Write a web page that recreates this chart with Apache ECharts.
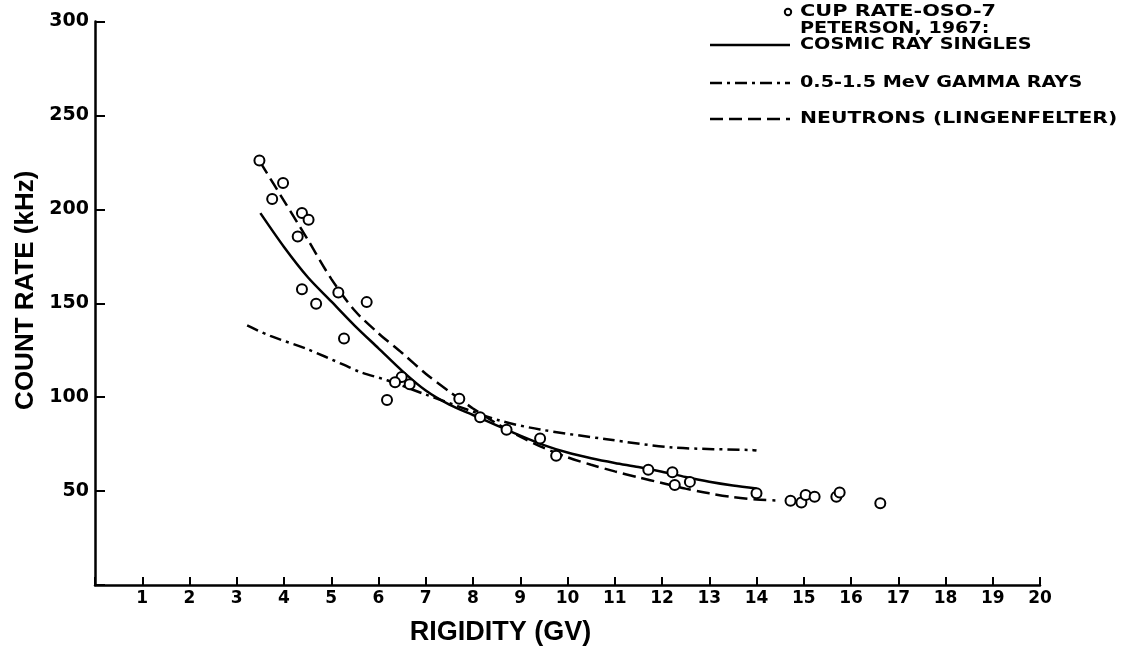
<!DOCTYPE html>
<html>
<head>
<meta charset="utf-8">
<script src="https://cdn.jsdelivr.net/npm/echarts@6/dist/echarts.min.js"></script>
<style>
html,body{margin:0;padding:0;background:#fff;}
#chart{width:1133px;height:651px;}
</style>
</head>
<body>
<div id="chart"></div>
<script>
// ---- Data ----
const xTicks = [1,2,3,4,5,6,7,8,9,10,11,12,13,14,15,16,17,18,19,20];
const yTicks = [50,100,150,200,250,300];

// Cup rate, OSO-7 (open circles): [rigidity GV, count rate kHz]
const cupRate = [
  [3.48,226],[3.98,214],[3.75,205.5],[4.38,198],[4.52,194.5],[4.29,185.5],
  [4.38,157.5],[5.15,155.7],[5.75,150.6],[4.68,149.7],[5.27,131.2],
  [6.49,110.7],[6.35,108],[6.66,106.9],[6.18,98.5],[7.71,99.1],[8.15,89.3],
  [8.71,82.6],[9.42,78],[9.76,68.8],[11.71,61.4],[12.22,60],[12.27,53.3],
  [12.59,54.9],[14.0,48.9],[14.72,44.9],[14.95,43.9],[15.04,47.9],[15.23,47],
  [15.69,47],[15.76,49.3],[16.62,43.5]
];

// Peterson 1967: cosmic ray singles (solid)
const cosmicRay = [
  [3.5,198],[4.0,180],[4.5,164],[5.0,151],[5.5,138],[6.0,126],[6.5,114],
  [7.0,103.5],[7.5,96],[8.0,90.5],[8.5,85],[9.0,79.5],[9.5,74.5],[10.0,70.5],
  [10.5,67.5],[11.0,65],[11.5,62.8],[12.0,60.3],[12.5,57.5],[13.0,55],
  [13.5,53],[14.0,51.4]
];

// Peterson 1967: 0.5-1.5 MeV gamma rays (dash-dot)
const gammaRays = [
  [3.22,138.2],[3.71,132.6],[4.49,125.6],[5.26,117.3],[5.61,113.4],[6.18,109],
  [7.02,101.2],[7.7,95],[8.57,87.5],[9.42,82.8],[10.83,77.6],[12.24,73.2],
  [13.93,71.8],[14.0,71.6]
];

// Neutrons (Lingenfelter) (dashed)
const neutrons = [
  [3.5,225],[4.0,204.5],[4.5,184],[5.0,163],[5.5,146],[6.0,134],[6.5,123.5],
  [7.0,112.5],[7.5,103],[8.0,94],[8.5,86],[9.0,79],[9.5,73],[10.0,68],
  [10.5,64],[11.0,60.5],[11.5,57.3],[12.0,54.3],[12.5,51.3],[13.0,48.8],
  [13.5,46.8],[14.0,45.5],[14.4,45]
];

const legendLines = [
  'CUP RATE-OSO-7',
  'PETERSON, 1967:',
  'COSMIC RAY SINGLES',
  '0.5-1.5 MeV GAMMA RAYS',
  'NEUTRONS (LINGENFELTER)'
];

const dashDot = [12,5,3,5];
const dashed = [13,6];

const chart = echarts.init(document.getElementById('chart'), null, {renderer:'canvas'});
const lblFont = 'DejaVu Sans';
const legX0 = 710, legX1 = 790, legTx = 800;
const legY = [12, 29, 45, 83, 119];
const legFont = 'bold 16px "DejaVu Sans"';
const legSX = 1.2;

function legText(i, sx) {
  return {type:'text', x:legTx, y:legY[i], scaleX:sx || legSX,
    style:{text:legendLines[i], font:legFont, fill:'#000', verticalAlign:'middle'}};
}

const option = {
  backgroundColor:'#fff',
  animation:false,
  grid:{left:95, right:93, top:21.5, bottom:58, containLabel:false},
  xAxis:{
    type:'value', min:0, max:20, interval:1,
    axisLine:{show:true, lineStyle:{color:'#000', width:2.5}},
    axisTick:{show:true, inside:true, length:8, lineStyle:{color:'#000', width:2}},
    axisLabel:{color:'#000', fontFamily:lblFont, fontWeight:'bold', fontSize:17, margin:5,
      formatter:v => xTicks.indexOf(v) >= 0 ? String(v) : ''},
    splitLine:{show:false},
    name:'RIGIDITY (GV)', nameLocation:'middle', nameGap:34,
    nameTextStyle:{color:'#000', fontFamily:'Liberation Sans', fontWeight:'bold', fontSize:27, padding:[0,134,0,0]}
  },
  yAxis:{
    type:'value', min:0, max:300, interval:50,
    axisLine:{show:true, lineStyle:{color:'#000', width:2.5}},
    axisTick:{show:true, inside:true, length:10, lineStyle:{color:'#000', width:2}},
    axisLabel:{color:'#000', fontFamily:lblFont, fontWeight:'bold', fontSize:19, margin:6,
      formatter:v => yTicks.indexOf(v) >= 0 ? String(v) : ''},
    splitLine:{show:false},
    name:'COUNT RATE (kHz)', nameLocation:'middle', nameGap:53, nameRotate:90,
    nameTextStyle:{color:'#000', fontFamily:'Liberation Sans', fontWeight:'bold', fontSize:26, padding:[0,0,0,26]}
  },
  series:[
    {name:'COSMIC RAY SINGLES', type:'line', data:cosmicRay, showSymbol:false, smooth:0.3,
      lineStyle:{color:'#000', width:2.5, type:'solid'}, z:2},
    {name:'0.5-1.5 MeV GAMMA RAYS', type:'line', data:gammaRays, showSymbol:false, smooth:0.3,
      lineStyle:{color:'#000', width:2.5, type:dashDot}, z:2},
    {name:'NEUTRONS (LINGENFELTER)', type:'line', data:neutrons, showSymbol:false, smooth:0.3,
      lineStyle:{color:'#000', width:2.5, type:dashed}, z:2},
    {name:'CUP RATE-OSO-7', type:'scatter', data:cupRate, symbol:'circle', symbolSize:10,
      itemStyle:{color:'#fff', borderColor:'#000', borderWidth:2, opacity:1}, z:5}
  ],
  graphic:[
    {type:'circle', shape:{cx:788, cy:legY[0], r:3.2}, style:{fill:'#fff', stroke:'#000', lineWidth:2}},
    legText(0, 1.3),
    legText(1),
    {type:'line', shape:{x1:legX0, y1:legY[2], x2:legX1, y2:legY[2]}, style:{stroke:'#000', lineWidth:2.5}},
    legText(2),
    {type:'line', shape:{x1:legX0, y1:legY[3], x2:legX1, y2:legY[3]}, style:{stroke:'#000', lineWidth:2.5, lineDash:dashDot}},
    legText(3),
    {type:'line', shape:{x1:legX0, y1:legY[4], x2:legX1, y2:legY[4]}, style:{stroke:'#000', lineWidth:2.5, lineDash:dashed}},
    legText(4, 1.27)
  ]
};
chart.setOption(option);
</script>
</body>
</html>
